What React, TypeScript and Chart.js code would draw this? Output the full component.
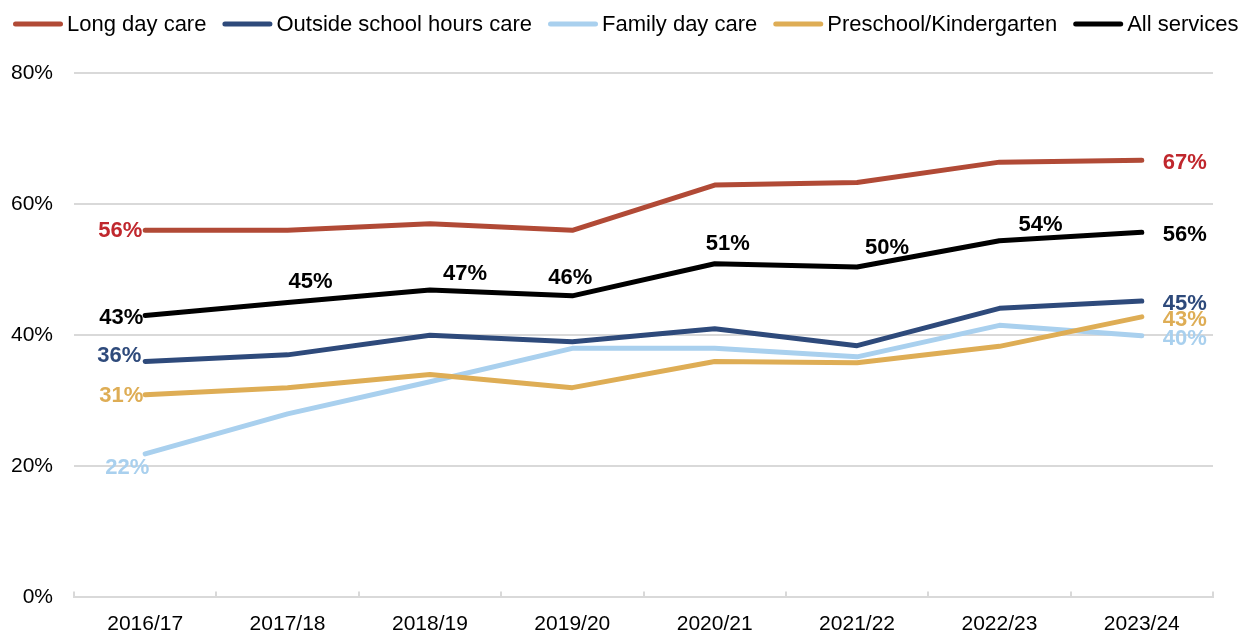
import { useEffect, useRef } from "react";
import { Chart, registerables } from "chart.js";

Chart.register(...registerables);

// ---------- data ----------
const categories = ["2016/17", "2017/18", "2018/19", "2019/20", "2020/21", "2021/22", "2022/23", "2023/24"];
const longDayCare = [56, 56, 57, 56, 62.9, 63.3, 66.4, 66.7];
const outsideSchoolHoursCare = [36, 37, 40, 39, 41, 38.4, 44.1, 45.2];
const familyDayCare = [21.9, 28, 32.9, 38, 38, 36.7, 41.5, 39.9];
const preschoolKindergarten = [30.9, 32, 34, 32, 36, 35.8, 38.3, 42.8];
const allServices = [43, 45, 46.9, 46, 50.9, 50.4, 54.4, 55.7];
const yTickValues = [0, 20, 40, 60, 80];
const seriesNames = ["Long day care", "Outside school hours care", "Family day care", "Preschool/Kindergarten", "All services"];

// ---------- styles ----------
const FONT = "'Liberation Sans', Arial, sans-serif";
const lineColors = ["#B14A36", "#2E4A7B", "#A9D0EE", "#DEAD55", "#000000"];
const labelColors = ["#C0272D", "#2E4A7B", "#A9D0EE", "#DEAD55", "#000000"];
// label placement (relative to point, px): [dx, dy, align]
const firstLabelPlace: [number, number, CanvasTextAlign][] = [
  [-3, 1, "right"],
  [-4, -5, "right"],
  [-18, 14, "center"],
  [-2, 1, "right"],
  [-2, 2, "right"],
];
const middleLabelShift: [number, number][] = [
  [0, 0], [23, -20], [35, -16], [-2, -18], [13, -20], [30, -19], [41, -16], [0, 0],
];

const legendPlugin = {
  id: "customLegend",
  afterDraw(chart: any) {
    const ctx = chart.ctx as CanvasRenderingContext2D;
    ctx.save();
    ctx.font = `22px ${FONT}`;
    ctx.textBaseline = "middle";
    ctx.textAlign = "left";
    const lineLen = 50;
    const gapText = 4;
    const gapItem = 16;
    let x = 13;
    const y = 24;
    chart.data.datasets.forEach((ds: any, i: number) => {
      ctx.strokeStyle = lineColors[i];
      ctx.lineWidth = 5;
      ctx.lineCap = "round";
      ctx.beginPath();
      ctx.moveTo(x + 2.5, y);
      ctx.lineTo(x + lineLen - 2.5, y);
      ctx.stroke();
      ctx.fillStyle = "#000";
      ctx.fillText(ds.label, x + lineLen + gapText, y + 1);
      x += lineLen + gapText + ctx.measureText(ds.label).width + gapItem;
    });
    ctx.restore();
  },
};

const tickMarksPlugin = {
  id: "xTickMarks",
  beforeDatasetsDraw(chart: any) {
    const xs = chart.scales.x;
    const area = chart.chartArea;
    const ctx = chart.ctx as CanvasRenderingContext2D;
    const step = xs.getPixelForValue(1) - xs.getPixelForValue(0);
    ctx.save();
    ctx.strokeStyle = "#d9d9d9";
    ctx.lineWidth = 2;
    for (let i = 0; i <= categories.length; i++) {
      const x = Math.round(xs.getPixelForValue(i) - step / 2);
      ctx.beginPath();
      ctx.moveTo(x, area.bottom - 6);
      ctx.lineTo(x, area.bottom);
      ctx.stroke();
    }
    ctx.restore();
  },
};

const dataLabelsPlugin = {
  id: "dataLabels",
  afterDatasetsDraw(chart: any) {
    const ctx = chart.ctx as CanvasRenderingContext2D;
    ctx.save();
    ctx.font = `bold 22px ${FONT}`;
    ctx.textBaseline = "middle";
    const order = [0, 1, 3, 2, 4];
    order.forEach((di) => {
      const meta = chart.getDatasetMeta(di);
      const values = chart.data.datasets[di].data as number[];
      ctx.fillStyle = labelColors[di];
      meta.data.forEach((pt: any, i: number) => {
        const txt = Math.round(values[i]) + "%";
        const last = values.length - 1;
        if (i === 0) {
          const [dx, dy, al] = firstLabelPlace[di];
          ctx.textAlign = al;
          ctx.fillText(txt, pt.x + dx, pt.y + dy);
        } else if (i === last) {
          ctx.textAlign = "left";
          ctx.fillText(txt, pt.x + 21, pt.y + 3);
        } else if (di === 4) {
          const [dx, dy] = middleLabelShift[i];
          ctx.textAlign = "center";
          ctx.fillText(txt, pt.x + dx, pt.y + dy);
        }
      });
    });
    ctx.restore();
  },
};

export default function App() {
  const ref = useRef<HTMLCanvasElement | null>(null);
  useEffect(() => {
    if (!ref.current) return;
    const series = [longDayCare, outsideSchoolHoursCare, familyDayCare, preschoolKindergarten, allServices];
    const chart = new Chart(ref.current, {
      type: "line",
      data: {
        labels: categories,
        datasets: series.map((d, i) => ({
          label: seriesNames[i],
          data: d,
          borderColor: lineColors[i],
          backgroundColor: lineColors[i],
          borderWidth: 5,
          borderCapStyle: "round" as const,
          borderJoinStyle: "round" as const,
          pointRadius: 0,
          pointHoverRadius: 0,
          tension: 0,
          order: i === 4 ? 0 : 5 - i,
        })),
      },
      options: {
        animation: false,
        responsive: true,
        maintainAspectRatio: false,
        layout: { padding: { top: 73, right: 28, left: 0, bottom: 0 } },
        plugins: {
          legend: { display: false },
          tooltip: { enabled: false },
        },
        scales: {
          x: {
            type: "category",
            offset: true,
            grid: { display: false, drawTicks: false },
            border: { display: true, color: "#d9d9d9", width: 2 },
            ticks: {
              color: "#000",
              font: { family: FONT, size: 21 },
              padding: 14,
              maxRotation: 0,
              autoSkip: false,
            },
            afterFit(scale: any) {
              scale.height = 33;
            },
          },
          y: {
            min: 0,
            max: 80,
            afterBuildTicks(scale: any) {
              scale.ticks = yTickValues.map((v) => ({ value: v }));
            },
            grid: { color: "#d9d9d9", lineWidth: 2, drawTicks: false },
            border: { display: false },
            ticks: {
              color: "#000",
              font: { family: FONT, size: 21 },
              padding: 21,
              callback: (v: any) => v + "%",
            },
            afterFit(scale: any) {
              scale.width = 74;
            },
          },
        },
      },
      plugins: [tickMarksPlugin, dataLabelsPlugin, legendPlugin],
    });
    return () => chart.destroy();
  }, []);
  return (
    <div style={{ position: "fixed", left: 0, top: 0, width: 1241, height: 631, background: "#fff" }}>
      <canvas ref={ref} />
    </div>
  );
}
